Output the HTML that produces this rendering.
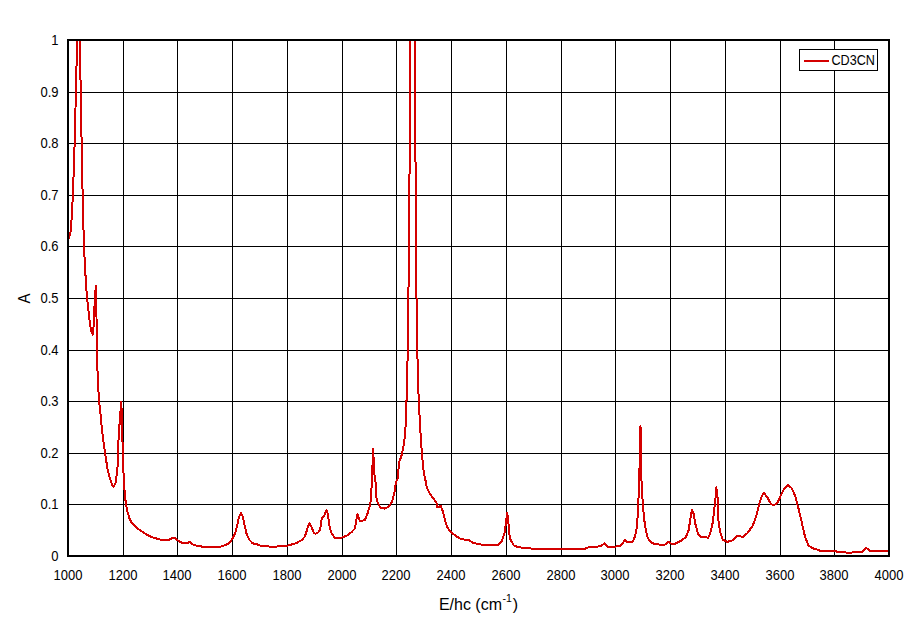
<!DOCTYPE html>
<html><head><meta charset="utf-8"><style>
html,body{margin:0;padding:0;background:#fff;}
body{width:911px;height:623px;overflow:hidden;}
svg{display:block;}
text{font-family:"Liberation Sans",sans-serif;fill:#000;}
</style></head><body>
<svg width="911" height="623" viewBox="0 0 911 623">
<defs><clipPath id="pc"><rect x="69" y="41" width="819" height="514"/></clipPath></defs>
<rect width="911" height="623" fill="#fff"/>
<g fill="#000">
<rect x="123" y="41" width="1" height="514"/>
<rect x="177" y="41" width="1" height="514"/>
<rect x="232" y="41" width="1" height="514"/>
<rect x="287" y="41" width="1" height="514"/>
<rect x="342" y="41" width="1" height="514"/>
<rect x="396" y="41" width="1" height="514"/>
<rect x="451" y="41" width="1" height="514"/>
<rect x="506" y="41" width="1" height="514"/>
<rect x="561" y="41" width="1" height="514"/>
<rect x="615" y="41" width="1" height="514"/>
<rect x="670" y="41" width="1" height="514"/>
<rect x="725" y="41" width="1" height="514"/>
<rect x="780" y="41" width="1" height="514"/>
<rect x="834" y="41" width="1" height="514"/>
<rect x="69" y="92" width="819" height="1"/>
<rect x="69" y="143" width="819" height="1"/>
<rect x="69" y="195" width="819" height="1"/>
<rect x="69" y="246" width="819" height="1"/>
<rect x="69" y="298" width="819" height="1"/>
<rect x="69" y="350" width="819" height="1"/>
<rect x="69" y="401" width="819" height="1"/>
<rect x="69" y="453" width="819" height="1"/>
<rect x="69" y="504" width="819" height="1"/>
</g>
<path d="M68.8,239 L70.7,231 L72,213 L72.9,194 L73.9,167 L75.1,128 L76,83 L77,50 L77.6,30 L79.6,30 L80,55 L81.1,108 L81.9,163 L82.9,205 L83.7,237 L84.7,262 L85.9,282 L86.8,295 L87.9,306 L89,315.5 L90.1,324.5 L91.5,332 L92.6,334.5 L93.7,325.6 L94.9,297.5 L95.8,286 L96.1,300 L96.5,317 L96.8,354 L97.9,381 L99,400 L100.3,412 L101.6,426 L103.3,440 L105,453 L107.9,471 L110.1,479 L111.8,484 L113.5,487 L115.7,482.5 L116.9,473.5 L118,462 L118.5,440 L119.8,420 L121.3,401.7 L122.1,426 L123,460 L123.9,483 L125.3,499 L126.2,505 L127.2,511.1 L129.4,518.2 L132,523.4 L136.4,527.8 L140.8,530.5 L146.1,534.4 L151.3,537 L158.4,539.1 L161.9,539.9 L168.9,539.9 L172.8,537.7 L175,538.2 L178.6,541 L182.1,542.9 L187.3,542.9 L190,541.9 L193.5,545 L199.6,546.1 L204,547 L220,546.8 L225.3,545 L229.7,542.8 L232.4,538.9 L235,533.6 L237.2,525.6 L239,516.8 L240.8,513.2 L242.5,515.9 L244.3,523.8 L246.5,533.6 L249.2,539.7 L252.7,543.3 L258,544.6 L262.4,546.4 L275,546.6 L285,546.2 L290.3,544.9 L296.5,543.1 L301.8,540 L304.9,536.5 L306.6,531.2 L308,525.9 L309.3,523.3 L311.5,526.8 L313.7,532.5 L315.5,533.9 L318.6,532.1 L320.3,529 L321.2,521.5 L322.1,518 L323.9,516.6 L325.2,512.7 L326.5,510 L327.8,513.5 L328.7,520.6 L330,528.6 L331.8,533.9 L334.9,537.8 L338,538.3 L342.4,537.4 L346.8,535.6 L351.2,532.5 L354.8,528.6 L356.1,521.5 L357.4,514 L358.7,518 L360.1,521.5 L362.7,520.6 L365,519.7 L367.7,513.1 L370.3,504.1 L371.3,493.8 L371.9,478.5 L372.2,472.7 L373.2,449 L374.1,473.3 L375.4,478.5 L376,495.1 L377.3,501.5 L380.5,508 L384.4,508.6 L388.8,506.7 L392.1,501.5 L394.6,491.3 L395.9,482.3 L397.8,478.5 L399.1,462 L401.2,457 L403.6,446 L405.2,434 L406,417 L406.8,391 L407.8,349 L408.7,271 L409.9,130 L410.3,41 L410.5,30 L414.5,30 L414.7,60 L415.7,185 L416.7,323 L417.9,376 L418.8,402 L420.2,428 L421.8,452 L423.7,472 L425.4,480 L426.8,487.7 L429.7,493.5 L433.6,498.8 L436.5,503.1 L437.4,507.5 L440.8,506 L442.7,510.8 L445.1,520.5 L447.1,527.2 L450.9,532 L455.7,535.9 L460.6,538.8 L463.7,539.5 L467.7,539.5 L472.9,542.8 L482.2,544.8 L490.1,545.5 L498,544.8 L501.9,540.8 L504.6,532.9 L505.9,523.7 L507.2,512.5 L508.5,523.7 L509.8,538.2 L513.8,545.5 L519,547.4 L529.6,548.1 L532.2,549 L585.3,548.7 L586,547.7 L597.2,546.8 L601.1,545.8 L604.4,543.5 L607.7,546.8 L619.6,546.4 L622.2,544.1 L624.8,539.9 L627.5,542.4 L632.5,541.8 L635,536.7 L637,527 L638.3,504 L639.3,478 L640,445 L640.5,426.5 L641,445 L641.5,481 L642.7,502 L644,518 L645.3,527 L647.2,536.7 L650.4,541.8 L653.6,543.7 L657.8,544.1 L660.4,544.8 L665.7,544.5 L668.3,541.9 L670.9,543.5 L675.6,543.5 L681.2,540.7 L685.7,537.3 L688.5,530.6 L690.2,520.4 L691.3,512.6 L692.1,510.3 L693.6,513.7 L695.3,523.8 L698.1,533.9 L700.3,536.7 L704.8,536.7 L708.2,537.9 L710.4,532.8 L712.7,522.7 L714.4,508.1 L715.5,498 L716.3,487.3 L717.8,499.1 L718.3,519.3 L720,531.7 L722.8,539.6 L727.3,541.8 L731.8,540.7 L735,537.9 L737.6,535.6 L742.7,536.9 L747.8,532.8 L753,525.1 L756.2,516.1 L759.4,503.2 L762,495.5 L763.9,493.2 L767.1,496.8 L770.9,503.9 L773.5,505.2 L776.7,503.9 L779.9,497.5 L783.8,489.1 L787.6,485 L791.5,487.8 L795.3,496.2 L798.5,508.4 L801.8,522.5 L805,536.6 L808.2,545 L812,548.2 L815.3,548.9 L819.7,550.6 L834.6,550.9 L838.1,552 L848.6,552.7 L861.8,552 L866.2,548 L870.6,551.1 L889,551.5" fill="none" stroke="#d40000" stroke-width="2" stroke-linejoin="round" shape-rendering="crispEdges" clip-path="url(#pc)"/>
<rect x="68" y="40" width="821" height="516" fill="none" stroke="#000" stroke-width="2"/>
<rect x="799.5" y="49.5" width="78" height="21" fill="#fff" stroke="#000" stroke-width="1"/>
<rect x="804" y="60" width="25" height="2" fill="#d40000"/>
<text transform="translate(831.5,65) scale(0.97,1.1)" font-size="13.0px">CD3CN</text>
<g font-size="13.0px" text-anchor="middle">
<text transform="translate(68,580) scale(1,1.1)">1000</text>
<text transform="translate(123,580) scale(1,1.1)">1200</text>
<text transform="translate(177,580) scale(1,1.1)">1400</text>
<text transform="translate(232,580) scale(1,1.1)">1600</text>
<text transform="translate(287,580) scale(1,1.1)">1800</text>
<text transform="translate(342,580) scale(1,1.1)">2000</text>
<text transform="translate(396,580) scale(1,1.1)">2200</text>
<text transform="translate(451,580) scale(1,1.1)">2400</text>
<text transform="translate(506,580) scale(1,1.1)">2600</text>
<text transform="translate(561,580) scale(1,1.1)">2800</text>
<text transform="translate(615,580) scale(1,1.1)">3000</text>
<text transform="translate(670,580) scale(1,1.1)">3200</text>
<text transform="translate(725,580) scale(1,1.1)">3400</text>
<text transform="translate(780,580) scale(1,1.1)">3600</text>
<text transform="translate(834,580) scale(1,1.1)">3800</text>
<text transform="translate(889,580) scale(1,1.1)">4000</text>
</g>
<g font-size="13.0px" text-anchor="end">
<text transform="translate(58.5,561) scale(1,1.1)">0</text>
<text transform="translate(58.5,509) scale(1,1.1)">0.1</text>
<text transform="translate(58.5,458) scale(1,1.1)">0.2</text>
<text transform="translate(58.5,406) scale(1,1.1)">0.3</text>
<text transform="translate(58.5,355) scale(1,1.1)">0.4</text>
<text transform="translate(58.5,303) scale(1,1.1)">0.5</text>
<text transform="translate(58.5,251) scale(1,1.1)">0.6</text>
<text transform="translate(58.5,200) scale(1,1.1)">0.7</text>
<text transform="translate(58.5,148) scale(1,1.1)">0.8</text>
<text transform="translate(58.5,97) scale(1,1.1)">0.9</text>
<text transform="translate(58.5,45) scale(1,1.1)">1</text>
</g>
<text transform="translate(478.5,610) scale(1,1.05)" font-size="16px" text-anchor="middle">E/hc (cm<tspan font-size="10.5px" dy="-8" dx="0.5">-1</tspan><tspan dy="8" dx="1">)</tspan></text>
<text transform="translate(30,298.5) rotate(-90) scale(1,1.1)" font-size="15px" text-anchor="middle">A</text>
</svg>
</body></html>
